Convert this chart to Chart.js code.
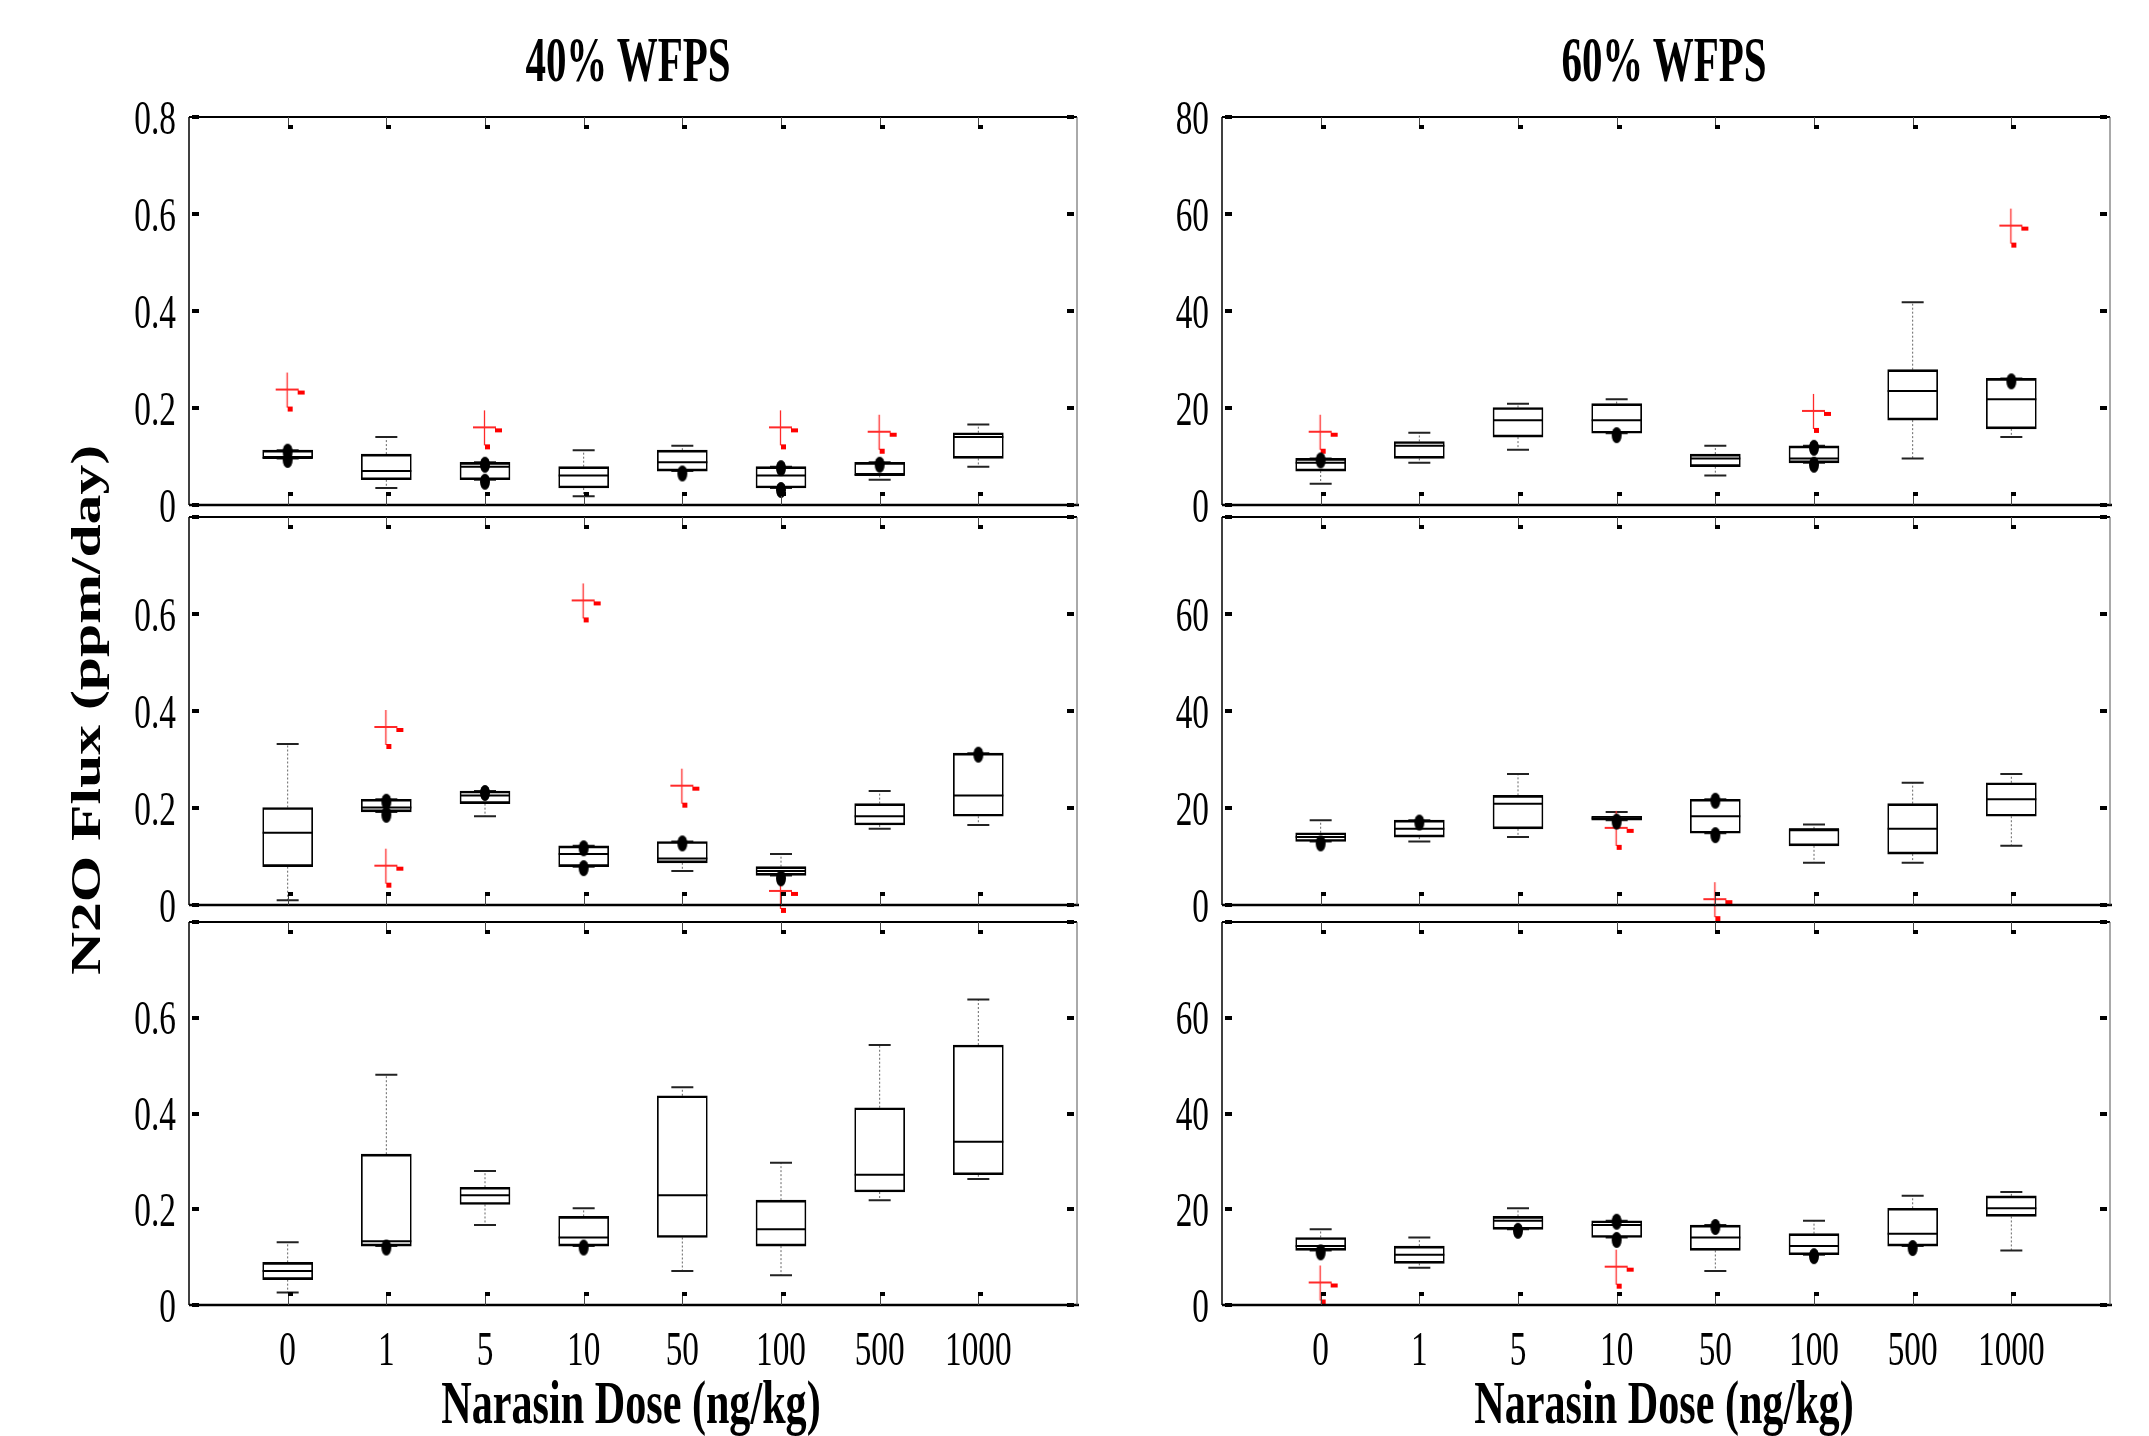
<!DOCTYPE html>
<html>
<head>
<meta charset="utf-8">
<script src="https://cdn.jsdelivr.net/npm/chart.js@4.4.1/dist/chart.umd.min.js"></script>
<style>
  body { margin: 0; background: #fff; width: 2149px; height: 1436px; overflow: hidden; position: relative; font-family: "Liberation Serif", "Times New Roman", serif; }
  canvas { position: absolute; }
  .lbl { position: absolute; white-space: nowrap; font-weight: bold; color: #000; transform-origin: 50% 50%; }
  .title { font-size: 63px; line-height: 63px; top: 29px; transform: translateX(-50%) scaleX(0.65); }
  .xtitle { font-size: 62px; line-height: 62px; top: 1371px; transform: translateX(-50%) scaleX(0.68); }
  .ytitle { font-size: 42px; line-height: 46px; left: 86px; top: 710px; transform: translate(-50%, -50%) rotate(-90deg) scaleX(1.42); }
</style>
</head>
<body>
<div class="lbl title" style="left:628px">40% WFPS</div>
<div class="lbl title" style="left:1664px">60% WFPS</div>
<div class="lbl xtitle" style="left:631px">Narasin Dose (ng/kg)</div>
<div class="lbl xtitle" style="left:1664px">Narasin Dose (ng/kg)</div>
<div class="lbl ytitle">N2O Flux (ppm/day)</div>

<script>
const doses = ['0', '1', '5', '10', '50', '100', '500', '1000'];
const yTicks40 = [0, 0.2, 0.4, 0.6, 0.8];
const yTicks60 = [0, 20, 40, 60, 80];

// one row per dose: [low whisker, q1, median, q3, high whisker]
const box40a = [
  [0.096, 0.096, 0.097, 0.113, 0.113],
  [0.035, 0.052, 0.070, 0.105, 0.140],
  [0.052, 0.052, 0.079, 0.088, 0.088],
  [0.018, 0.035, 0.061, 0.079, 0.113],
  [0.070, 0.070, 0.088, 0.113, 0.122],
  [0.035, 0.035, 0.061, 0.079, 0.079],
  [0.052, 0.061, 0.062, 0.088, 0.088],
  [0.079, 0.096, 0.140, 0.149, 0.166]
];
const box40b = [
  [0.010, 0.079, 0.149, 0.201, 0.332],
  [0.192, 0.192, 0.201, 0.218, 0.218],
  [0.183, 0.209, 0.226, 0.235, 0.235],
  [0.079, 0.079, 0.105, 0.122, 0.122],
  [0.070, 0.087, 0.096, 0.131, 0.131],
  [0.061, 0.061, 0.070, 0.079, 0.105],
  [0.157, 0.165, 0.183, 0.209, 0.235],
  [0.165, 0.183, 0.226, 0.313, 0.313]
];
const box40c = [
  [0.026, 0.053, 0.071, 0.089, 0.131],
  [0.123, 0.123, 0.133, 0.315, 0.481],
  [0.167, 0.210, 0.229, 0.246, 0.280],
  [0.123, 0.123, 0.141, 0.185, 0.202],
  [0.071, 0.141, 0.229, 0.437, 0.455],
  [0.062, 0.123, 0.158, 0.219, 0.297],
  [0.219, 0.236, 0.272, 0.412, 0.543],
  [0.263, 0.272, 0.341, 0.543, 0.638]
];
const box60a = [
  [4.4, 7.0, 8.7, 9.6, 9.6],
  [8.7, 9.6, 12.2, 13.1, 14.9],
  [11.4, 14.0, 17.5, 20.1, 20.9],
  [14.8, 14.8, 17.5, 20.9, 21.8],
  [6.1, 7.9, 9.6, 10.5, 12.2],
  [8.7, 8.7, 9.6, 12.2, 12.2],
  [9.6, 17.5, 23.5, 27.9, 41.8],
  [14.0, 15.7, 21.8, 26.1, 26.1]
];
const box60b = [
  [13.1, 13.1, 14.0, 14.9, 17.5],
  [13.1, 14.0, 15.7, 17.5, 17.5],
  [14.0, 15.7, 20.9, 22.6, 27.0],
  [17.5, 17.5, 17.9, 18.3, 19.2],
  [14.8, 14.8, 18.3, 21.8, 21.8],
  [8.7, 12.2, 15.6, 15.7, 16.6],
  [8.7, 10.5, 15.7, 20.9, 25.2],
  [12.2, 18.3, 21.8, 25.2, 27.0]
];
const box60c = [
  [11.4, 11.4, 12.3, 14.1, 15.8],
  [7.8, 8.7, 10.5, 12.3, 14.1],
  [15.8, 15.8, 17.6, 18.5, 20.2],
  [14.1, 14.1, 16.7, 17.6, 17.6],
  [7.1, 11.4, 14.1, 16.7, 16.7],
  [10.5, 10.5, 12.3, 14.9, 17.6],
  [12.3, 12.3, 14.9, 20.2, 22.8],
  [11.4, 18.5, 20.2, 22.8, 23.6]
];

// black points: [dose index, value]
const dots40a = [[0, 0.110], [0, 0.093], [2, 0.083], [2, 0.048], [4, 0.065], [5, 0.076], [5, 0.031], [6, 0.083]];
const dots40b = [[1, 0.213], [1, 0.186], [2, 0.231], [3, 0.117], [3, 0.076], [4, 0.127], [5, 0.055], [7, 0.310]];
const dots40c = [[1, 0.120], [3, 0.120]];
const dots60a = [[0, 9.2], [3, 14.4], [5, 11.8], [5, 8.3], [7, 25.5]];
const dots60b = [[0, 12.7], [1, 17.0], [3, 17.2], [4, 21.5], [4, 14.4]];
const dots60c = [[0, 11.0], [2, 15.5], [3, 17.4], [3, 13.6], [4, 16.3], [5, 10.2], [6, 11.9]];

// outliers (red +): [dose index, value]
const out40a = [[0, 0.236], [2, 0.158], [5, 0.158], [6, 0.149]];
const out40b = [[1, 0.365], [1, 0.079], [3, 0.626], [4, 0.244], [5, 0.027]];
const out40c = [];
const out60a = [[0, 14.9], [5, 19.2], [7, 57.4]];
const out60b = [[3, 15.7], [4, 1.0]];
const out60c = [[0, 4.5], [3, 7.8]];

const colLeft = [189, 1222];
const colRight = [1077, 2110];
const rowTop = [117, 517, 922];
const rowBottom = [505, 905, 1305];

const panels = [
  { box: box40a, dots: dots40a, out: out40a, ticks: yTicks40, col: 0, row: 0 },
  { box: box40b, dots: dots40b, out: out40b, ticks: yTicks40, col: 0, row: 1 },
  { box: box40c, dots: dots40c, out: out40c, ticks: yTicks40, col: 0, row: 2 },
  { box: box60a, dots: dots60a, out: out60a, ticks: yTicks60, col: 1, row: 0 },
  { box: box60b, dots: dots60b, out: out60b, ticks: yTicks60, col: 1, row: 1 },
  { box: box60c, dots: dots60c, out: out60c, ticks: yTicks60, col: 1, row: 2 }
];

// marker images
function makePlus() {
  const c = document.createElement('canvas');
  c.width = 46; c.height = 52;
  const g = c.getContext('2d');
  const cx = 22, cy = 25;
  g.strokeStyle = '#ff2a2a';
  g.lineWidth = 1.3;
  g.beginPath(); g.moveTo(cx + 0.5, cy - 17); g.lineTo(cx + 0.5, cy + 18); g.stroke();
  g.lineWidth = 2;
  g.beginPath(); g.moveTo(cx - 11, cy); g.lineTo(cx + 12, cy); g.stroke();
  g.fillStyle = '#ff0000';
  g.fillRect(cx + 11, cy + 1, 7, 4);
  g.fillRect(cx + 1, cy + 17, 5, 5);
  return c;
}
function makeBlob() {
  const c = document.createElement('canvas');
  c.width = 14; c.height = 20;
  const g = c.getContext('2d');
  g.fillStyle = '#000';
  g.beginPath(); g.ellipse(7, 10, 5, 8, 0, 0, Math.PI * 2); g.fill();
  return c;
}
const plusImg = makePlus();
const blobImg = makeBlob();

function boxParts(panel) {
  return {
    id: 'boxParts',
    beforeDatasetsDraw(chart) {
      const ctx = chart.ctx, xs = chart.scales.x, ys = chart.scales.y;
      ctx.save();
      panel.box.forEach((b, i) => {
        const x = xs.getPixelForValue(i + 1);
        const [lo, q1, med, q3, hi] = b.map(v => ys.getPixelForValue(v));
        ctx.strokeStyle = '#666';
        ctx.lineWidth = 1;
        ctx.setLineDash([2, 2]);
        ctx.beginPath();
        ctx.moveTo(x, q3); ctx.lineTo(x, hi);
        ctx.moveTo(x, q1); ctx.lineTo(x, lo);
        ctx.stroke();
        ctx.setLineDash([]);
        ctx.strokeStyle = '#222';
        ctx.lineWidth = 2;
        ctx.beginPath();
        ctx.moveTo(x - 11, hi); ctx.lineTo(x + 11, hi);
        ctx.moveTo(x - 11, lo); ctx.lineTo(x + 11, lo);
        ctx.stroke();
        ctx.strokeStyle = '#000';
        ctx.beginPath();
        ctx.moveTo(x - 25, med); ctx.lineTo(x + 25, med);
        ctx.stroke();
      });
      ctx.restore();
    },
    afterDatasetsDraw(chart) {
      const ctx = chart.ctx, xs = chart.scales.x, ys = chart.scales.y, a = chart.chartArea;
      ctx.save();
      // frame
      ctx.strokeStyle = '#000';
      ctx.lineWidth = 2;
      ctx.beginPath(); ctx.moveTo(a.left, a.top); ctx.lineTo(a.right, a.top); ctx.stroke();
      ctx.lineWidth = 2.5;
      ctx.beginPath(); ctx.moveTo(a.left, a.bottom); ctx.lineTo(a.right + 2, a.bottom); ctx.stroke();
      ctx.lineWidth = 1.5;
      ctx.beginPath(); ctx.moveTo(a.left, a.top); ctx.lineTo(a.left, a.bottom); ctx.stroke();
      ctx.strokeStyle = '#555';
      ctx.lineWidth = 1;
      ctx.beginPath(); ctx.moveTo(a.right, a.top); ctx.lineTo(a.right, a.bottom); ctx.stroke();
      // tick marks at doses
      ctx.fillStyle = '#000';
      doses.forEach((d, i) => {
        const x = Math.round(xs.getPixelForValue(i + 1)) + 0.5;
        ctx.strokeStyle = '#444';
        ctx.lineWidth = 1;
        ctx.beginPath();
        ctx.moveTo(x, a.top); ctx.lineTo(x, a.top + 10);
        ctx.moveTo(x, a.bottom); ctx.lineTo(x, a.bottom - 10);
        ctx.stroke();
        ctx.fillRect(x - 0.5, a.top + 8, 5, 4);
        ctx.fillRect(x - 0.5, a.bottom - 13, 5, 4);
      });
      // y tick marks
      panel.ticks.forEach(t => {
        const y = Math.round(ys.getPixelForValue(t));
        ctx.fillRect(a.left + 3, y - 2, 7, 4);
        ctx.fillRect(a.right - 10, y - 2, 7, 4);
      });
      ctx.restore();
    },
    afterDraw(chart) {
      const ctx = chart.ctx, xs = chart.scales.x, ys = chart.scales.y, a = chart.chartArea;
      ctx.save();
      ctx.fillStyle = '#000';
      ctx.font = '49px "Liberation Serif"';
      ctx.textBaseline = 'alphabetic';
      ctx.textAlign = 'right';
      panel.ticks.forEach((t, i) => {
        if (panel.row > 0 && i === panel.ticks.length - 1) return;
        const y = ys.getPixelForValue(t);
        ctx.save();
        ctx.translate(a.left - 13, y + 16.5);
        ctx.scale(0.68, 1);
        ctx.fillText(String(t), 0, 0);
        ctx.restore();
      });
      if (panel.row === 2) {
        ctx.textAlign = 'center';
        doses.forEach((d, i) => {
          ctx.save();
          ctx.translate(xs.getPixelForValue(i + 1), a.bottom + 60);
          ctx.scale(0.68, 1);
          ctx.fillText(d, 0, 0);
          ctx.restore();
        });
      }
      ctx.restore();
    }
  };
}

panels.forEach(panel => {
  const cLeft = colLeft[panel.col] - 110;
  const cRight = colRight[panel.col] + 30;
  const cTop = rowTop[panel.row] - 30;
  const cBottom = rowBottom[panel.row] + (panel.row === 2 ? 80 : 30);
  const canvas = document.createElement('canvas');
  canvas.width = cRight - cLeft;
  canvas.height = cBottom - cTop;
  canvas.style.left = cLeft + 'px';
  canvas.style.top = cTop + 'px';
  canvas.style.width = canvas.width + 'px';
  canvas.style.height = canvas.height + 'px';
  document.body.appendChild(canvas);

  const yMax = panel.ticks[panel.ticks.length - 1];
  new Chart(canvas, {
    type: 'bar',
    data: {
      datasets: [
        {
          type: 'bar',
          data: panel.box.map((b, i) => ({ x: i + 1, y: [b[1], b[3]] })),
          backgroundColor: 'rgba(0,0,0,0)',
          borderColor: '#000',
          borderWidth: { top: 2, bottom: 2, left: 1, right: 1 },
          borderSkipped: false,
          barThickness: 50
        },
        {
          type: 'scatter',
          data: panel.dots.map(p => ({ x: p[0] + 1, y: p[1] })),
          pointStyle: blobImg,
          pointRadius: 5,
          clip: false
        },
        {
          type: 'scatter',
          data: panel.out.map(p => ({ x: p[0] + 1, y: p[1] })),
          pointStyle: plusImg,
          pointRadius: 5,
          clip: false
        }
      ]
    },
    options: {
      responsive: false,
      animation: false,
      devicePixelRatio: 1,
      events: [],
      layout: {
        padding: {
          left: colLeft[panel.col] - cLeft,
          right: cRight - colRight[panel.col],
          top: rowTop[panel.row] - cTop,
          bottom: cBottom - rowBottom[panel.row]
        }
      },
      plugins: { legend: { display: false }, tooltip: { enabled: false } },
      scales: {
        x: { type: 'linear', min: 0, max: 9, offset: false, display: false },
        y: { type: 'linear', min: 0, max: yMax, display: false }
      }
    },
    plugins: [boxParts(panel)]
  });
});
</script>
</body>
</html>
